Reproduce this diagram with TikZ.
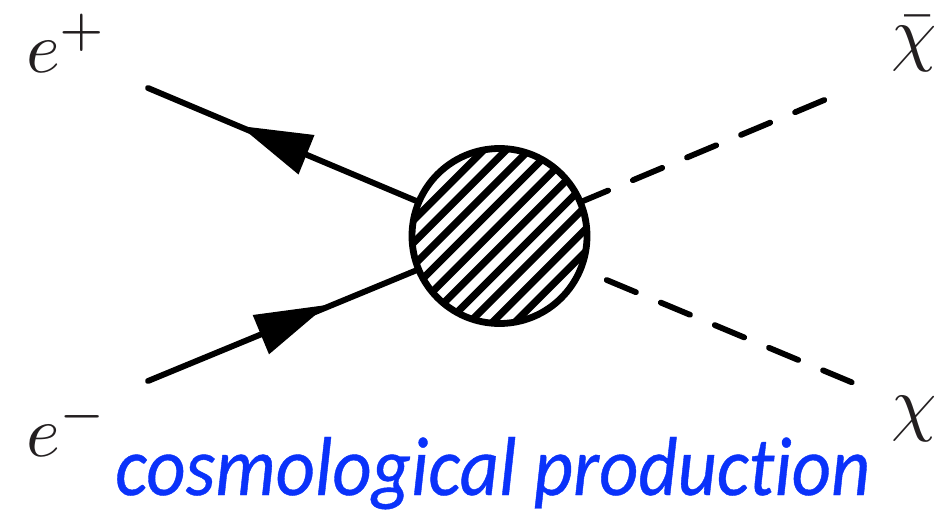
\documentclass[tikz,border=0pt]{standalone}
\usepackage{fontspec}
\usepackage{graphicx}
\usetikzlibrary{calc}
\newfontfamily\capfont[Ligatures=NoCommon,FakeBold=0.5]{Carlito}
\definecolor{capblue}{RGB}{10,50,250}
\definecolor{ink}{RGB}{35,31,32}
\newcommand{\bigmath}[1]{\scalebox{7.25}{$#1$}}
\tikzset{
  fermion/.style={line width=5.9pt,line cap=round},
  scalar/.style={line width=5.8pt,line cap=round,dash pattern=on 31.7pt off 26.9pt},
  tip/.style={fill=black,draw=none},
  hatch/.style={line width=7.2pt},
  blobring/.style={circle,draw,line width=6.8pt,minimum size=175pt,inner sep=0pt,outer sep=0pt},
  math/.style={inner sep=0pt,text=ink},
}
\begin{document}
\begin{tikzpicture}[x=1pt,y=-1pt]
\useasboundingbox (0,0) rectangle (939,511);
\coordinate (c) at (499.5,236);
\coordinate (ep) at (148,88);
\coordinate (em) at (148,381);
\coordinate (xb) at (824.3,100);
\coordinate (x) at (851.7,382.3);
\coordinate (xs) at (606.7,280);
\begin{scope}
\clip (c) circle (87);
\foreach \d in {-5,...,5}{
  \draw[hatch] ($(c)+(-120+\d*16*0.7071+5.657,120+\d*16*0.7071+5.657)$) -- ($(c)+(120+\d*16*0.7071+5.657,-120+\d*16*0.7071+5.657)$);
}
\end{scope}
\node[blobring] (blob) at (c) {};
\draw[fermion] (ep) -- (blob);
\draw[fermion] (em) -- (blob);
\draw[scalar] (xb) -- (blob);
\draw[scalar] (xs) -- (x);
\fill[tip] (240,126) -- (314.5,135) -- (298.5,174.5) -- cycle;
\fill[tip] (327,305) -- (252.7,315) -- (269,354.3) -- cycle;
\node[math,anchor=base west] (lep) at (26,72) {\bigmath{e^{+}}};
\node[math,anchor=base west] (lem) at (26,456) {\bigmath{e^{-}}};
\node[math,anchor=base west] (lxb) at (891,58) {\bigmath{\bar\chi}};
\node[math,anchor=base west] (lx) at (891,427) {\bigmath{\chi}};
\node[anchor=base west,inner sep=0pt,text=capblue] (cap) at (115,495) {\resizebox{755pt}{58pt}{\capfont\itshape cosmological production}};
\end{tikzpicture}
\end{document}
